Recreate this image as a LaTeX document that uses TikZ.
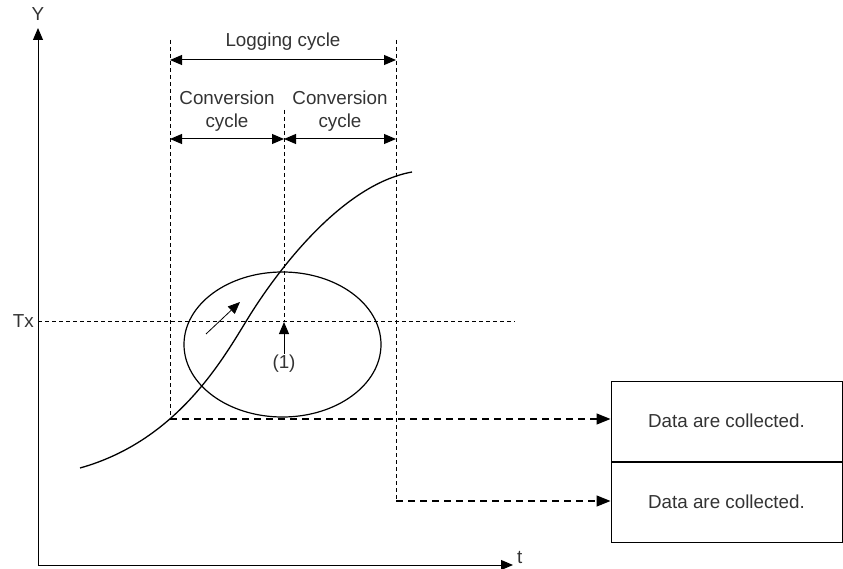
\documentclass[tikz,border=0pt]{standalone}
\usepackage{fontspec}
\setmainfont{Liberation Sans}
\usetikzlibrary{arrows.meta, positioning, shapes.geometric}

\begin{document}
\begin{tikzpicture}[
    x=1pt, y=-1pt,
    font=\fontsize{18.8}{23}\selectfont,
    axis/.style={line width=1pt},
    guide/.style={line width=0.8pt, dash pattern=on 4pt off 3pt},
    collect/.style={line width=1.3pt, dash pattern=on 7pt off 5pt, -{Triangle[length=14pt,width=11pt]}},
    span/.style={line width=1pt, {Triangle[length=12pt,width=10pt]}-{Triangle[length=12pt,width=10pt]}},
    databox/.style={draw, line width=1pt, minimum width=231pt, minimum height=80pt, inner sep=0pt},
    lbl/.style={text=black!80, inner sep=1pt, align=center}
]
    \useasboundingbox (0,0) rectangle (843,569);

    % axes
    \coordinate (o) at (38,565);
    \coordinate (ytop) at (38,28);
    \coordinate (tend) at (513,565);
    \draw[axis, {Triangle[length=12pt,width=10pt]}-{Triangle[length=12pt,width=10pt]}] (ytop) -- (o) -- (tend);
    \node[lbl] (ylab) at (38,14) {Y};
    \node[lbl, anchor=west] (tlab) at (516,557) {t};

    % threshold
    \node[lbl, anchor=east] (tx) at (35,321) {Tx};
    \draw[guide] (38,321) -- (515,321);

    % cycle boundaries
    \coordinate (lt) at (170,40);
    \coordinate (mt) at (284,110);
    \coordinate (rt) at (396,40);
    \coordinate (c1) at (170,419);
    \coordinate (c2) at (396,501);
    \draw[guide] (lt) -- (c1);
    \draw[guide] (mt) -- (284,321);
    \draw[guide] (rt) -- (c2);

    \draw[span] (170,60) -- (396,60);
    \node[lbl] (logging) at (283,42) {Logging cycle};
    \draw[span] (170,139) -- (284,139);
    \draw[span] (284,139) -- (396,139);
    \node[lbl] (conv1) at (227,111) {Conversion\\cycle};
    \node[lbl] (conv2) at (340,111) {Conversion\\cycle};

    % signal
    \draw[line width=1.3pt] (80,468) .. controls (180,440) and (225,355) .. (250,315)
        .. controls (275,275) and (340,185) .. (412,172);
    \node[ellipse, draw, line width=1.2pt, minimum width=197pt, minimum height=145pt] (zone) at (282.5,344.5) {};
    \draw[line width=0.8pt, -{Triangle[length=12pt,width=10pt]}] (206,334) -- (240,302);

    \node[lbl] (n1) at (284,364) {(1)};
    \draw[line width=1pt, -{Triangle[length=12pt,width=10pt]}] (n1.north) -- (284,322);

    % collected data
    \node[databox, lbl] (d1) at (726.5,421) {Data are collected.};
    \node[databox, lbl, below=0pt of d1] (d2) {Data are collected.};
    \draw[collect] (c1) -- (c1 -| d1.west);
    \draw[collect] (c2) -- (c2 -| d2.west);
\end{tikzpicture}
\end{document}
